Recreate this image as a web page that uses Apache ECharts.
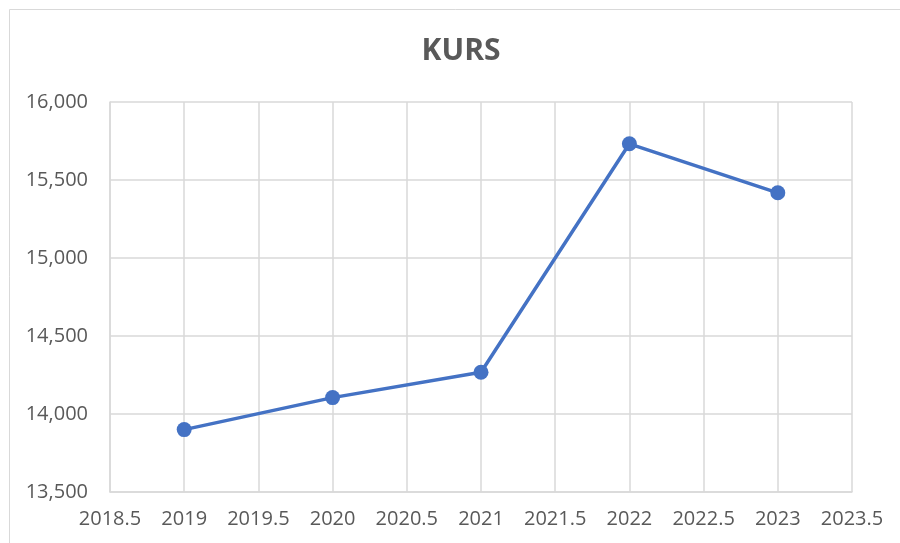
<!DOCTYPE html>
<html>
<head>
<meta charset="utf-8">
<title>KURS</title>
<script src="https://cdn.jsdelivr.net/npm/echarts@6/dist/echarts.min.js"></script>
<style>
  html, body { margin: 0; padding: 0; background: #fff; }
  #main { width: 900px; height: 543px; }
</style>
</head>
<body>
<div id="main"></div>
<script>
var years = [2019, 2020, 2021, 2022, 2023];
var kurs = [13900, 14105, 14268, 15732, 15418];

var xTicks = { min: 2018.5, max: 2023.5, interval: 0.5 };
var yTicks = { min: 13500, max: 16000, interval: 500 };

var gridColor = '#d9d9d9';
var textColor = '#595959';
var lineColor = '#4472c4';

var points = years.map(function (y, i) {
    return [y, kurs[i]];
});

var option = {
    animation: false,
    backgroundColor: '#fff',
    textStyle: { fontFamily: 'Open Sans' },
    graphic: [{
        type: 'rect',
        shape: { x: 9.5, y: 9.5, width: 1000, height: 1000 },
        style: { fill: 'none', stroke: gridColor, lineWidth: 1 },
        silent: true
    }],
    title: {
        text: 'KURS',
        left: 456,
        top: 31,
        textAlign: 'center',
        textStyle: {
            fontFamily: 'Open Sans',
            fontSize: 30,
            fontWeight: 'bold',
            color: textColor
        }
    },
    grid: {
        left: 110,
        right: 48,
        top: 102,
        bottom: 51
    },
    xAxis: {
        type: 'value',
        min: xTicks.min,
        max: xTicks.max,
        interval: xTicks.interval,
        axisLine: { show: true, lineStyle: { color: gridColor, width: 1.5 } },
        axisTick: { show: false },
        splitLine: { show: true, lineStyle: { color: gridColor, width: 1.5 } },
        axisLabel: {
            color: textColor,
            fontSize: 20,
            margin: 17,
            formatter: function (v) { return String(v); }
        }
    },
    yAxis: {
        type: 'value',
        min: yTicks.min,
        max: yTicks.max,
        interval: yTicks.interval,
        axisLine: { show: true, lineStyle: { color: gridColor, width: 1.5 } },
        axisTick: { show: false },
        splitLine: { show: true, lineStyle: { color: gridColor, width: 1.5 } },
        axisLabel: {
            color: textColor,
            fontSize: 20,
            margin: 22,
            formatter: function (v) { return v.toLocaleString('en-US'); }
        }
    },
    series: [{
        name: 'KURS',
        type: 'line',
        data: points,
        symbol: 'circle',
        symbolSize: 15,
        lineStyle: { color: lineColor, width: 3.5 },
        itemStyle: { color: lineColor }
    }]
};

var myChart = echarts.init(document.getElementById('main'));
myChart.setOption(option);
</script>
</body>
</html>
